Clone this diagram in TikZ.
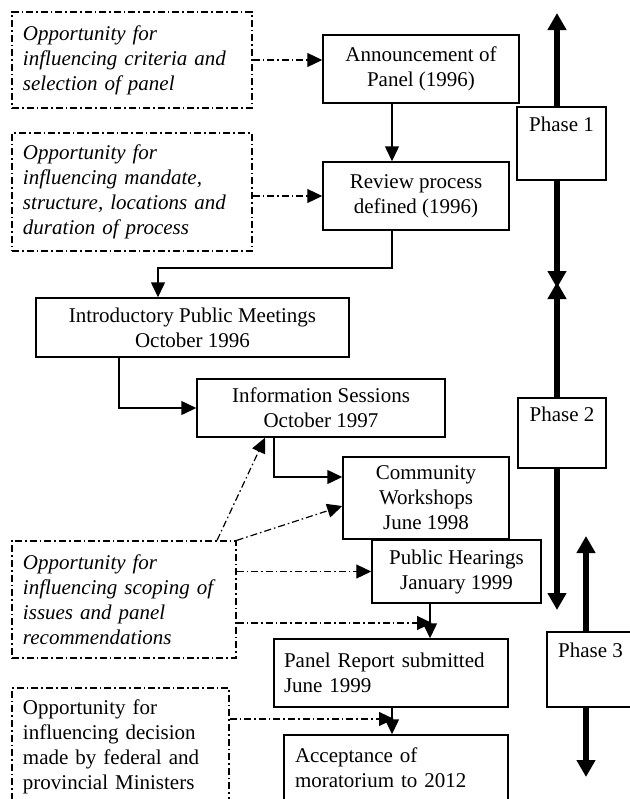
\documentclass[tikz,border=0pt]{standalone}
\usepackage{fontspec}
\setmainfont{Liberation Serif}
\usetikzlibrary{arrows.meta}
\newcommand{\diagfont}{\fontsize{10.5}{12.5}\selectfont}
\tikzstyle{process} = [rectangle, draw=black, line width=0.75pt, inner sep=0pt, align=center]
\tikzstyle{leftprocess} = [process, align=left, inner xsep=5pt]
\tikzstyle{opportunity} = [rectangle, draw=black, line width=0.6pt, dash pattern=on 3.5pt off 1.5pt on 0.8pt off 1.5pt, align=left, inner xsep=5.5pt, inner ysep=0pt, font=\diagfont\itshape]
\tikzstyle{phase} = [rectangle, draw=black, line width=0.75pt, inner sep=0pt, text height=7pt, text depth=19pt]
\tikzstyle{arrow} = [line width=0.75pt, -{Triangle[length=7.5pt,width=7pt]}]
\tikzstyle{dasharrow} = [arrow, line width=0.6pt, dash pattern=on 3.5pt off 1.5pt on 0.8pt off 1.5pt]
\tikzstyle{phasearrow} = [line width=2.7pt, -{Triangle[length=8.5pt,width=9pt]}]

\begin{document}
\begin{tikzpicture}[x=0.5pt, y=-0.5pt, font=\diagfont]
\useasboundingbox (0,0) rectangle (630,799);

% review steps
\node(announce)[process, minimum width=98pt, minimum height=34pt] at (421,69) {Announcement of\\Panel (1996)};
\node(review)[process, minimum width=93pt, minimum height=34pt] at (416,196) {Review process\\defined (1996)};
\node(intro)[process, minimum width=156.5pt, minimum height=29.5pt] at (192.5,327.5) {Introductory Public Meetings\\October 1996};
\node(info)[process, minimum width=124pt, minimum height=29pt] at (321,408) {Information Sessions\\October 1997};
\node(workshops)[process, minimum width=83pt, minimum height=41pt] at (426,498) {Community\\Workshops\\June 1998};
\node(hearings)[process, minimum width=84.5pt, minimum height=31.5pt] at (456.5,571.5) {Public Hearings\\January 1999};
\node(report)[leftprocess, minimum width=117pt, minimum height=34pt, text width=107pt] at (391,673) {Panel Report submitted\\June 1999};
\node(accept)[leftprocess, minimum width=112pt, minimum height=33pt, text width=101pt, inner xsep=5.5pt] at (396,768) {Acceptance of\\moratorium to 2012};

% opportunities
\node(oppselect)[opportunity, minimum width=120pt, minimum height=48pt, text width=109pt] at (132,60) {Opportunity for\\influencing criteria and\\selection of panel};
\node(oppmandate)[opportunity, minimum width=120pt, minimum height=59pt, text width=109pt] at (132,192) {Opportunity for\\influencing mandate,\\structure, locations and\\duration of process};
\node(oppscope)[opportunity, minimum width=112pt, minimum height=58.5pt, text width=101pt] at (124,599.5) {Opportunity for\\influencing scoping of\\issues and panel\\recommendations};
\node(oppdecide)[opportunity, font=\diagfont, minimum width=108.5pt, minimum height=59pt, text width=97.5pt] at (120.5,747) {Opportunity for\\influencing decision\\made by federal and\\provincial Ministers};

% phases
\node(phaseone)[phase, minimum width=44.5pt, minimum height=36.5pt] at (561.5,143.5) {Phase 1};
\node(phasetwo)[phase, minimum width=44pt, minimum height=35pt] at (562,433) {Phase 2};
\node(phasethree)[phase, minimum width=43.5pt, minimum height=37.5pt] at (590.5,669.5) {Phase 3};

\coordinate(colA) at (392,0);
\coordinate(colB) at (119,0);
\coordinate(colC) at (274,0);
\coordinate(colD) at (430,0);
\coordinate(colE) at (217,0);
\coordinate(colF) at (265,0);
\coordinate(bend) at (158,268);
\coordinate(hitreport) at (432,623);
\coordinate(hitaccept) at (394,719);
\coordinate(phasecol) at (557,0);
\coordinate(oneup) at (557,13);
\coordinate(onedown) at (557,288);
\coordinate(twoup) at (557,282);
\coordinate(twodown) at (557,610);
\coordinate(threeup) at (586,536);
\coordinate(threedown) at (586,777);

\draw[arrow](announce.south -| colA)--(review.north -| colA);
\draw[arrow](review.south -| colA) |- (bend)--(intro.north -| bend);
\draw[arrow](intro.south -| colB) |- (info.west);
\draw[arrow](info.south -| colC) |- ([yshift=10.5pt]workshops.west);
\draw[arrow](hearings.south -| colD)--(report.north -| colD);
\draw[arrow](report.south -| colA)--(accept.north -| colA);

\draw[dasharrow](oppselect.east)--(oppselect.east -| announce.west);
\draw[dasharrow](oppmandate.east |- review.west)--(review.west);
\draw[dasharrow](oppscope.north -| colE)--(info.south -| colF);
\draw[dasharrow](oppscope.north east)--([yshift=-4pt]workshops.west);
\draw[dasharrow](oppscope.east |- hearings.west)--(hearings.west);
\draw[dasharrow](oppscope.east |- hitreport)--(hitreport);
\draw[dasharrow](oppdecide.east |- hitaccept)--(hitaccept);

\draw[phasearrow](phaseone.north -| phasecol)--(oneup);
\draw[phasearrow](phaseone.south -| phasecol)--(onedown);
\draw[phasearrow](phasetwo.north -| phasecol)--(twoup);
\draw[phasearrow](phasetwo.south -| phasecol)--(twodown);
\draw[phasearrow](phasethree.north -| threeup)--(threeup);
\draw[phasearrow](phasethree.south -| threedown)--(threedown);
\end{tikzpicture}
\end{document}
